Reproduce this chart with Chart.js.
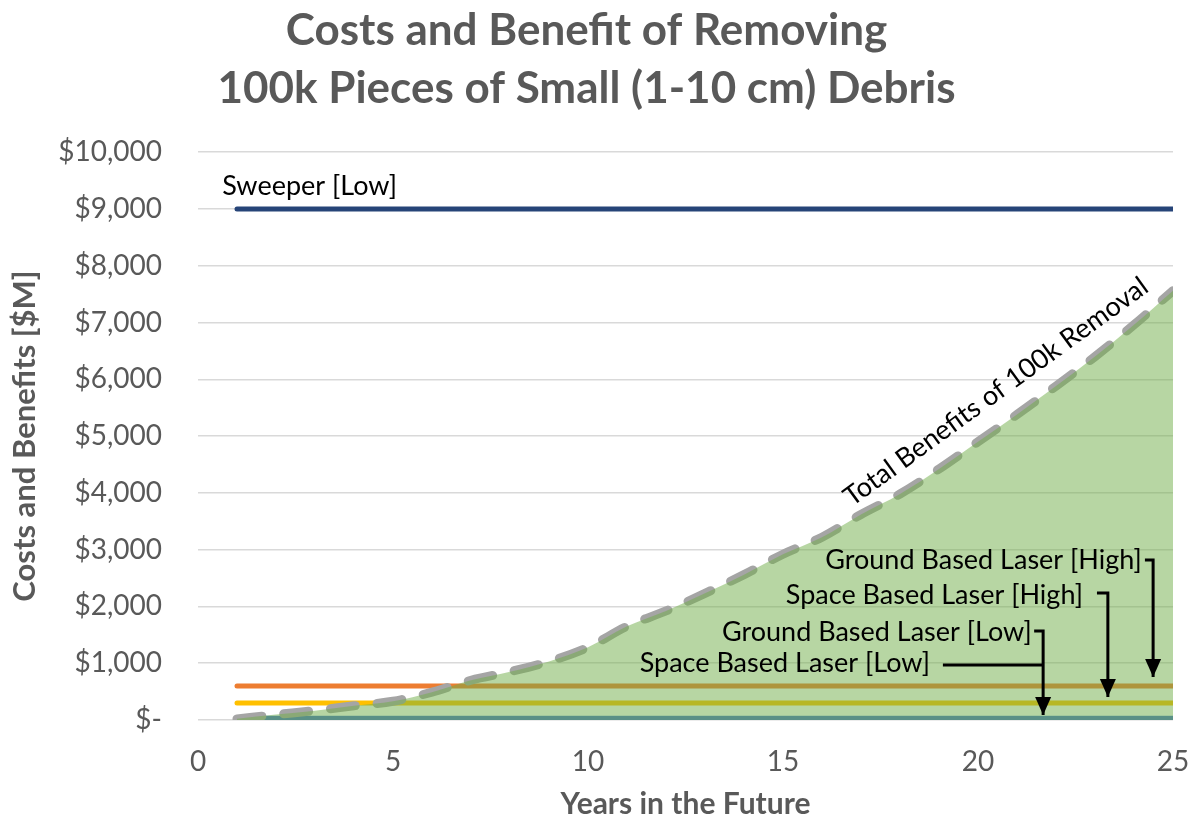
<!DOCTYPE html>
<html>
<head>
<meta charset="utf-8">
<script src="https://cdn.jsdelivr.net/npm/chart.js@4.4.1/dist/chart.umd.min.js"></script>
<style>
  html, body { margin: 0; padding: 0; background: #fff; }
  #wrap { width: 1192px; height: 822px; }
</style>
</head>
<body>
<div id="wrap"><canvas id="chart" width="1192" height="822"></canvas></div>
<script>
// years after removal starts
const years = [1, 2, 3, 4, 5, 6, 7, 8, 9, 10, 11, 12, 13, 14, 15, 16, 17, 18, 19, 20, 21, 22, 23, 24, 25];
// total benefits of removing 100k pieces [$M]
const totalBenefits = [20, 95, 165, 250, 330, 490, 700, 850, 1030, 1280, 1650, 1920, 2230, 2560, 2920, 3220, 3620, 3980, 4420, 4900, 5380, 5880, 6400, 6960, 7560];

// cost lines are flat from year 1 to year 25
const costYears = [1, 25];
const spaceLaserLow = [25, 25];
const groundLaserHigh = [600, 600];
const spaceLaserHigh = [300, 300];
const groundLaserLow = [30, 30];
const sweeperLow = [9000, 9000];

const titleLines = ['Costs and Benefit of Removing', '100k Pieces of Small (1-10 cm) Debris'];
const xTitle = 'Years in the Future';
const yTitle = 'Costs and Benefits [$M]';

const FONT = 'Lato, "Open Sans", sans-serif';
const GREY = '#595959';

const pts = (xs, ys) => xs.map((x, i) => ({x, y: ys[i]}));

function costLine(label, ys, color) {
    return {
        label,
        data: pts(costYears, ys),
        borderColor: color,
        borderWidth: 5,
        borderCapStyle: 'round',
        pointRadius: 0,
        fill: false,
        order: 2
    };
}

// labels and arrows drawn in data units
const notes = [
    {text: 'Sweeper [Low]', x: 0.62, y: 9400, align: 'left'},
    {text: 'Ground Based Laser [High]', x: 24.2, y: 2817, align: 'right'},
    {text: 'Space Based Laser [High]', x: 22.69, y: 2201, align: 'right'},
    {text: 'Ground Based Laser [Low]', x: 21.38, y: 1549, align: 'right'},
    {text: 'Space Based Laser [Low]', x: 18.77, y: 1004, align: 'right'},
];
const arrows = [
    {path: [[24.28, 2817], [24.49, 2817], [24.49, 757]], head: true},
    {path: [[23.05, 2236], [23.33, 2236], [23.33, 405]], head: true},
    {path: [[21.44, 1567], [21.67, 1567], [21.67, 88]], head: true},
    {path: [[19.10, 968], [21.67, 968]], head: false},
];
const curveNote = {text: 'Total Benefits of 100k Removal', x: 16.77, y: 3750, angle: -36};

const annotate = {
    id: 'annotate',
    afterDatasetsDraw(chart) {
        const {ctx, scales: {x, y}} = chart;
        ctx.save();
        ctx.fillStyle = '#000';
        ctx.strokeStyle = '#000';
        ctx.font = '27px ' + FONT;
        ctx.textBaseline = 'middle';
        notes.forEach(n => {
            ctx.textAlign = n.align;
            ctx.fillText(n.text, x.getPixelForValue(n.x), y.getPixelForValue(n.y));
        });
        ctx.lineWidth = 3;
        arrows.forEach(a => {
            const p = a.path.map(([vx, vy]) => [x.getPixelForValue(vx), y.getPixelForValue(vy)]);
            ctx.beginPath();
            p.forEach(([px, py], i) => i ? ctx.lineTo(px, py) : ctx.moveTo(px, py));
            if (a.head) {
                const [tx, ty] = p[p.length - 1];
                ctx.lineTo(tx, ty - 14);
                ctx.stroke();
                ctx.beginPath();
                ctx.moveTo(tx, ty);
                ctx.lineTo(tx - 8, ty - 18);
                ctx.lineTo(tx + 8, ty - 18);
                ctx.closePath();
                ctx.fill();
            } else {
                ctx.stroke();
            }
        });
        ctx.translate(x.getPixelForValue(curveNote.x), y.getPixelForValue(curveNote.y));
        ctx.rotate(curveNote.angle * Math.PI / 180);
        ctx.textAlign = 'left';
        ctx.textBaseline = 'alphabetic';
        ctx.fillText(curveNote.text, 0, 0);
        ctx.restore();
    }
};

new Chart(document.getElementById('chart'), {
    type: 'line',
    data: {
        datasets: [
            {
                label: 'Total Benefits area',
                data: pts(years, totalBenefits),
                borderWidth: 0,
                borderColor: 'rgba(0,0,0,0)',
                backgroundColor: 'rgba(112,173,71,0.5)',
                pointRadius: 0,
                cubicInterpolationMode: 'monotone',
                fill: 'origin',
                order: 0
            },
            {
                label: 'Total Benefits of 100k Removal',
                data: pts(years, totalBenefits),
                borderColor: '#A5A5A5',
                borderWidth: 9,
                borderDash: [25, 22],
                borderCapStyle: 'round',
                pointRadius: 0,
                cubicInterpolationMode: 'monotone',
                fill: false,
                order: 1
            },
            costLine('Space Based Laser [Low]', spaceLaserLow, '#4472C4'),
            costLine('Ground Based Laser [High]', groundLaserHigh, '#ED7D31'),
            costLine('Space Based Laser [High]', spaceLaserHigh, '#FFC000'),
            costLine('Ground Based Laser [Low]', groundLaserLow, '#5B9BD5'),
            costLine('Sweeper [Low]', sweeperLow, '#264478'),
        ]
    },
    options: {
        responsive: false,
        animation: false,
        layout: {padding: {left: 0, right: 19, top: 0, bottom: 0}},
        plugins: {
            legend: {display: false},
            tooltip: {enabled: false},
            title: {
                display: true,
                text: titleLines,
                color: GREY,
                font: {family: FONT, size: 44, weight: 'bold', lineHeight: 1.32},
                padding: {top: 2, bottom: 34}
            }
        },
        scales: {
            x: {
                type: 'linear',
                min: 0,
                max: 25,
                grid: {display: false, drawTicks: false},
                border: {display: false},
                ticks: {stepSize: 5, color: GREY, font: {family: FONT, size: 28}, padding: 25},
                title: {display: true, text: xTitle, color: GREY, font: {family: FONT, size: 30, weight: 'bold'}, padding: {top: 0, bottom: 0}},
                afterFit: s => { s.height = 102; s.paddingLeft = 0; s.paddingRight = 0; }
            },
            y: {
                min: 0,
                max: 10000,
                grid: {color: '#D9D9D9', lineWidth: 1.5, drawTicks: false},
                border: {display: false},
                ticks: {
                    stepSize: 1000,
                    color: GREY,
                    font: {family: FONT, size: 28},
                    padding: 36,
                    callback: v => v === 0 ? '$-' : '$' + v.toLocaleString('en-US')
                },
                title: {display: true, text: yTitle, color: GREY, font: {family: FONT, size: 31, weight: 'bold'}, padding: {top: 6, bottom: 0}},
                afterFit: s => { s.width = 198; }
            }
        }
    },
    plugins: [annotate]
});
</script>
</body>
</html>
